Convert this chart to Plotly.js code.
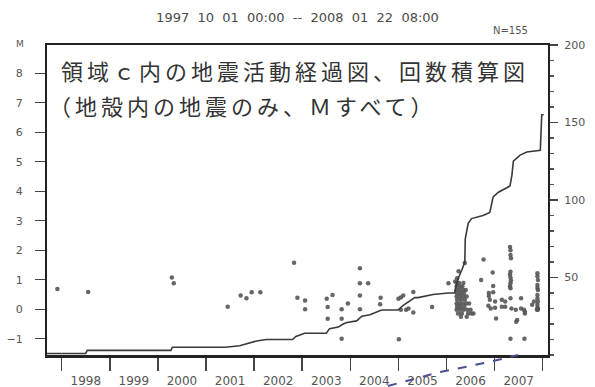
<!DOCTYPE html>
<html>
<head>
<meta charset="utf-8">
<script src="https://cdn.plot.ly/plotly-3.0.1.min.js"></script>
<style>
  html, body { margin: 0; padding: 0; background: #ffffff; }
  #chart { width: 595px; height: 387px; }
</style>
</head>
<body>
<div id="chart"></div>
<script>
// ---- data ----
const titleText = '1997\u00a0\u00a010\u00a0\u00a001\u00a0\u00a000:00\u00a0\u00a0--\u00a0\u00a02008\u00a0\u00a001\u00a0\u00a022\u00a0\u00a008:00';
const countLabel = 'N=155';
const magLabel = 'M';
const noteLine1 = '領域ｃ内の地震活動経過図、回数積算図';
const noteLine2 = '（地殻内の地震のみ、Ｍすべて）';

const yearTicks = [1998, 1999, 2000, 2001, 2002, 2003, 2004, 2005, 2006, 2007, 2008];
const yearLabels = ['1998', '1999', '2000', '2001', '2002', '2003', '2004', '2005', '2006', '2007'];
const magTicks = [-1, 0, 1, 2, 3, 4, 5, 6, 7, 8];
const countTicks = [50, 100, 150, 200];

// events: decimal year and magnitude
const evYear = [
  1997.91, 1998.55, 2000.29, 2000.33, 2001.45, 2001.72, 2001.84, 2001.95, 2002.13,
  2002.83, 2002.90, 2003.06, 2003.06, 2003.51, 2003.63, 2003.53, 2003.53, 2003.82, 2003.82, 2003.82, 2003.95,
  2004.20, 2004.20, 2004.37, 2004.20, 2004.20, 2004.63, 2004.62,
  2005.01, 2005.00, 2005.05, 2005.10, 2005.05, 2005.16, 2005.21, 2005.31, 2005.31, 2005.70,
  2006.04, 2006.18, 2006.22, 2006.25, 2006.38,
  2006.21, 2006.26, 2006.35,
  2006.21, 2006.28, 2006.33,
  2006.21, 2006.27, 2006.34, 2006.40,
  2006.22, 2006.29, 2006.36,
  2006.21, 2006.28, 2006.35, 2006.42,
  2006.22, 2006.30, 2006.38,
  2006.21, 2006.27, 2006.34, 2006.41, 2006.47,
  2006.22, 2006.29, 2006.37,
  2006.21, 2006.28, 2006.35, 2006.43, 2006.50,
  2006.24, 2006.32, 2006.45, 2006.52, 2006.56,
  2006.30, 2006.42,
  2006.72, 2006.77, 2006.96, 2006.97, 2006.88, 2006.97, 2006.88, 2006.90, 2007.01, 2007.15,
  2007.22, 2006.87, 2006.92, 2007.01, 2007.15, 2007.22, 2007.03,
  2007.32, 2007.33, 2007.33, 2007.34, 2007.33, 2007.32, 2007.33, 2007.34, 2007.33, 2007.32,
  2007.33, 2007.33, 2007.35, 2007.33,
  2007.44, 2007.47, 2007.45, 2007.55, 2007.55, 2007.61, 2007.63, 2007.63, 2007.62, 2007.78, 2007.82,
  2007.89, 2007.89, 2007.90, 2007.89, 2007.89, 2007.90, 2007.89, 2007.89, 2007.90, 2007.89,
  2007.89, 2007.90, 2007.88, 2007.90
];
const evMag = [
  0.69, 0.59, 1.08, 0.88, 0.09, 0.47, 0.37, 0.58, 0.58,
  1.58, 0.39, 0.30, 0.00, 0.36, 0.48, 0.08, -0.32, 0.00, -0.32, -1.00, 0.20,
  1.39, 0.88, 0.88, 0.47, 0.00, 0.39, 0.17,
  -1.02, 0.36, 0.40, 0.47, -0.02, -0.02, 0.03, 0.59, -0.11, 0.08,
  0.88, 0.94, 1.05, 1.29, 1.57,
  0.89, 0.89, 0.89,
  0.77, 0.77, 0.77,
  0.65, 0.65, 0.65, 0.65,
  0.54, 0.54, 0.54,
  0.43, 0.43, 0.43, 0.43,
  0.32, 0.32, 0.32,
  0.20, 0.20, 0.20, 0.20, 0.20,
  0.09, 0.09, 0.09,
  -0.02, -0.02, -0.02, -0.02, -0.02,
  -0.14, -0.14, -0.14, -0.14, -0.14,
  -0.25, -0.25,
  0.99, 1.69, 1.25, 0.79, 0.55, 0.58, 0.45, 0.32, 0.26, 0.32,
  0.26, 0.12, 0.03, 0.05, 0.09, 0.09, -0.31,
  2.11, 2.00, 1.84, 1.73, 1.27, 1.18, 1.08, 0.98, 0.88, 0.78,
  0.71, 0.37, 0.03, -1.00,
  -0.02, -0.36, -0.42, 0.37, 0.03, -0.02, -0.08, -0.14, -1.00, 0.15, 0.26,
  1.22, 1.12, 0.99, 0.82, 0.72, 0.65, 0.48, 0.37, 0.26, 0.15,
  0.05, 0.03, -0.02, -0.02
];

// cumulative number of events (right axis)
const cumYear = [1997.69, 1998.50, 1998.53, 2000.27, 2000.30, 2001.40, 2001.70, 2002.05, 2002.25, 2002.80,
  2002.87, 2003.05, 2003.50, 2003.57, 2003.75, 2003.85, 2003.93, 2004.13, 2004.24, 2004.41,
  2004.65, 2004.99, 2005.10, 2005.34, 2005.41, 2005.72, 2006.04, 2006.17, 2006.18, 2006.25,
  2006.32, 2006.38, 2006.39, 2006.45, 2006.52, 2006.76, 2006.90, 2006.97, 2007.08, 2007.32,
  2007.36, 2007.39, 2007.53, 2007.67, 2007.95, 2007.98, 2008.02];
const cumCount = [1, 1, 3, 3, 5, 5, 6, 9, 10, 10,
  12, 14, 14, 17, 18, 20, 21, 22, 25, 26,
  29, 29, 32, 37, 37, 39, 40, 40, 42, 50,
  55, 60, 75, 85, 88, 90, 92, 102, 105, 109,
  116, 125, 129, 131, 132, 155, 155];

// ---- chart ----
const labelPos = yearLabels.map(function (l) { return Number(l) + 0.5; });

const traces = [
  {
    x: cumYear, y: cumCount, yaxis: 'y2', type: 'scatter', mode: 'lines',
    line: { color: '#3a3a3a', width: 1.6 }, hoverinfo: 'skip', showlegend: false
  },
  {
    x: evYear, y: evMag, type: 'scatter', mode: 'markers',
    marker: { size: 4.5, color: '#555555', opacity: 0.9 }, showlegend: false
  }
];

const axisFont = { family: 'DejaVu Sans', size: 11, color: '#555555' };

const layout = {
  width: 595, height: 387,
  margin: { l: 47, r: 47, t: 45, b: 32 },
  paper_bgcolor: '#ffffff', plot_bgcolor: '#ffffff',
  font: { family: 'DejaVu Sans', color: '#444444' },
  showlegend: false,
  title: {
    text: titleText, x: 0.5, xanchor: 'center', xref: 'container',
    y: 1 - 17 / 387, yanchor: 'middle', yref: 'container',
    font: { family: 'DejaVu Sans', size: 13, color: '#4a4a4a' }
  },
  xaxis: {
    type: 'linear', range: [1997.694, 2008.11],
    tickmode: 'array', tickvals: labelPos, ticktext: yearLabels, ticks: '',
    tickfont: { family: 'DejaVu Sans', size: 12, color: '#555555' },
    ticklabelstandoff: 13,
    minor: { tickmode: 'array', tickvals: yearTicks, ticks: 'outside', ticklen: 13, tickwidth: 1.5, tickcolor: '#444444', showgrid: false },
    showline: true, linecolor: '#222222', linewidth: 2.5, mirror: true,
    showgrid: false, zeroline: false
  },
  yaxis: {
    range: [-1.55, 8.96], tickmode: 'array', tickvals: magTicks,
    ticks: 'outside', ticklen: 10, tickwidth: 1.2, tickcolor: '#444444',
    ticklabelstandoff: 10, tickfont: axisFont,
    showline: true, linecolor: '#222222', linewidth: 2,
    showgrid: false, zeroline: false
  },
  yaxis2: {
    overlaying: 'y', side: 'right', range: [0, 200],
    tickmode: 'array', tickvals: countTicks,
    ticks: 'outside', ticklen: 8, tickwidth: 1.2, tickcolor: '#444444',
    ticklabelstandoff: 4, tickfont: axisFont,
    minor: { dtick: 10, ticks: 'outside', ticklen: 4, tickcolor: '#555555', showgrid: false },
    showline: true, linecolor: '#222222', linewidth: 2,
    showgrid: false, zeroline: false
  },
  annotations: [
    { text: countLabel, xref: 'paper', yref: 'paper', x: (510 - 47) / 501, y: (355 - 30) / 310,
      xanchor: 'center', yanchor: 'middle', showarrow: false,
      font: { family: 'DejaVu Sans', size: 10, color: '#555555' } },
    { text: magLabel, xref: 'paper', yref: 'paper', x: (20 - 47) / 501, y: (355 - 44) / 310,
      xanchor: 'center', yanchor: 'middle', showarrow: false,
      font: { family: 'DejaVu Sans', size: 9, color: '#555555' } },
    { text: '<span style="letter-spacing:4px">' + noteLine1 + '</span>', xref: 'paper', yref: 'paper',
      x: (59 - 47) / 501, y: (355 - 70) / 310, xanchor: 'left', yanchor: 'middle', showarrow: false,
      font: { family: 'Noto Sans CJK JP', size: 22, color: '#333333' } },
    { text: '<span style="letter-spacing:4px">' + noteLine2 + '</span>', xref: 'paper', yref: 'paper',
      x: (47 - 47) / 501, y: (355 - 105) / 310, xanchor: 'left', yanchor: 'middle', showarrow: false,
      font: { family: 'Noto Sans CJK JP', size: 22, color: '#333333' } }
  ],
  shapes: [
    { type: 'path', xref: 'paper', yref: 'paper', layer: 'above',
      path: 'M 0.6806 -0.100 L 0.7844 -0.0548 L 0.8443 -0.0355 L 0.8902 -0.0194 L 0.9401 0.0',
      line: { color: '#4a5090', width: 2, dash: 'dash' } }
  ]
};

Plotly.newPlot('chart', traces, layout, { displayModeBar: false, staticPlot: true });
</script>
</body>
</html>
